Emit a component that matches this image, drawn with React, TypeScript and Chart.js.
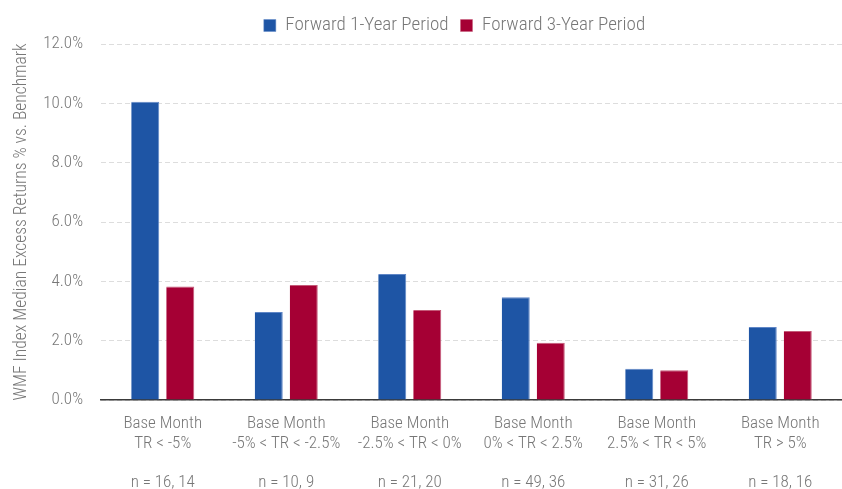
import React, { useEffect, useRef } from "react";
import { Chart, registerables } from "chart.js";

Chart.register(...registerables);

const categories: string[][] = [
  ["Base Month", "TR < -5%", "", "n = 16, 14"],
  ["Base Month", "-5% < TR < -2.5%", "", "n = 10, 9"],
  ["Base Month", "-2.5% < TR < 0%", "", "n = 21, 20"],
  ["Base Month", "0% < TR < 2.5%", "", "n = 49, 36"],
  ["Base Month", "2.5% < TR < 5%", "", "n = 31, 26"],
  ["Base Month", "TR > 5%", "", "n = 18, 16"],
];
const forward1Year = [10.05, 2.97, 4.25, 3.46, 1.05, 2.46];
const forward3Year = [3.83, 3.88, 3.03, 1.93, 1.0, 2.33];
const yTicks = [0, 2, 4, 6, 8, 10, 12];

const FAMILY = "Roboto, sans-serif";
const WEIGHT = "condensed 300";
const GRAY = "#777777";

const legendShift = {
  id: "legendShift",
  afterLayout(chart: any) {
    const lg = chart.legend;
    if (lg) {
      lg.left -= 17;
      lg.right -= 17;
      lg.top += 1;
      lg.bottom += 1;
    }
  },
};

export default function App() {
  const ref = useRef<HTMLCanvasElement>(null);
  useEffect(() => {
    document.body.style.margin = "0";
    const ctx = ref.current!;
    const chart = new Chart(ctx, {
      type: "bar",
      data: {
        labels: categories,
        datasets: [
          {
            label: "Forward 1-Year Period",
            data: forward1Year,
            backgroundColor: "#1E55A5",
            borderColor: "#5F86C6",
            borderWidth: { top: 1, right: 1, left: 0, bottom: 0 },
            borderSkipped: false,
            categoryPercentage: 0.567,
            barPercentage: 0.8,
          },
          {
            label: "Forward 3-Year Period",
            data: forward3Year,
            backgroundColor: "#A50034",
            borderColor: "#C45A78",
            borderWidth: { top: 1, right: 1, left: 0, bottom: 0 },
            borderSkipped: false,
            categoryPercentage: 0.567,
            barPercentage: 0.8,
          },
        ],
      },
      plugins: [legendShift],
      options: {
        animation: false,
        responsive: false,
        maintainAspectRatio: false,
        layout: { padding: { top: 3, right: 0, left: 0, bottom: 0 } },
        plugins: {
          legend: {
            position: "top",
            fullSize: false,
            labels: {
              boxWidth: 12,
              boxHeight: 12,
              color: GRAY,
              font: { family: FAMILY, weight: WEIGHT as any, size: 19 },
              padding: 12,
            },
          },
          tooltip: { enabled: false },
        },
        scales: {
          x: {
            grid: { display: false, drawTicks: false },
            border: { color: "#3a3a3a", width: 1.5 },
            afterFit: (axis: any) => {
              axis.height = 89;
            },
            ticks: {
              color: GRAY,
              font: { family: FAMILY, weight: WEIGHT as any, size: 17, lineHeight: 1.15 },
              padding: 14,
              maxRotation: 0,
              autoSkip: false,
            },
          },
          y: {
            min: 0,
            max: 12,
            afterBuildTicks: (axis: any) => {
              axis.ticks = yTicks.map((v) => ({ value: v }));
            },
            afterFit: (axis: any) => {
              axis.width = 101;
            },
            grid: { color: "#dddddd", drawTicks: false },
            border: { display: false, dash: [5, 3] },
            ticks: {
              color: GRAY,
              font: { family: FAMILY, weight: WEIGHT as any, size: 17 },
              padding: 18,
              callback: (v: any) => Number(v).toFixed(1) + "%",
            },
            title: {
              display: true,
              text: "WMF Index Median Excess Returns % vs. Benchmark",
              color: GRAY,
              font: { family: FAMILY, weight: WEIGHT as any, size: 17.5, lineHeight: 1.2 },
              padding: { top: 11, bottom: 0 },
            },
          },
        },
      },
    });
    return () => chart.destroy();
  }, []);
  return (
    <div style={{ width: 842, height: 489 }}>
      <canvas ref={ref} width={842} height={489} style={{ display: "block" }} />
    </div>
  );
}
